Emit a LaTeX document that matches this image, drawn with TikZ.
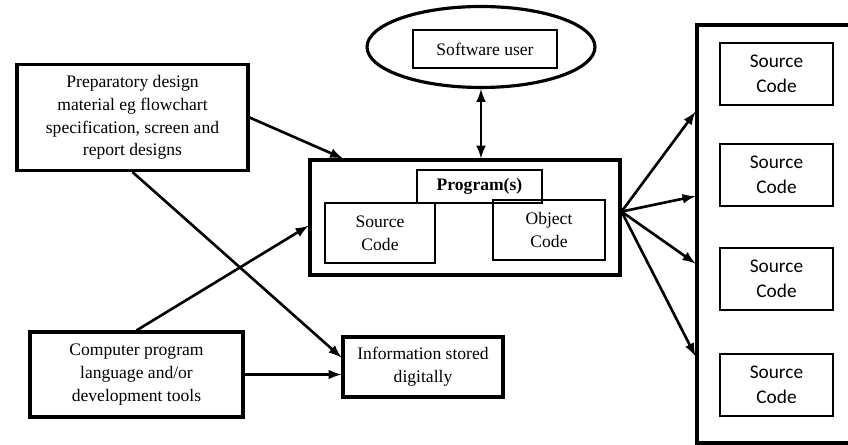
\documentclass[tikz,border=0pt]{standalone}
\usepackage{fontspec}
\setmainfont{Liberation Serif}
\newfontfamily\codefont{Carlito}
\usetikzlibrary{shapes,arrows,positioning,calc}

\begin{document}
\begin{tikzpicture}[
        x=0.02cm, y=-0.02cm,
        box/.style={rectangle, draw, line width=1.8pt, align=center, inner sep=0pt, font=\fontsize{10}{13}\selectfont},
        inbox/.style={rectangle, draw, line width=0.8pt, align=center, inner sep=0pt, font=\fontsize{10}{13}\selectfont},
        codebox/.style={inbox, font=\codefont\fontsize{11}{14}\selectfont},
        ring/.style={ellipse, draw, line width=1.8pt},
        line/.style={draw, -latex, line width=1.5pt}
    ]
    \useasboundingbox (0,0) rectangle (848,445);
    % left side inputs
    \node [box, minimum width=4.62cm, minimum height=2.12cm] (prep) at (132.5,117.5) {Preparatory design\\ material eg flowchart\\ specification, screen and\\ report designs};
    \node [box, minimum width=4.26cm, minimum height=1.7cm] (comp) at (136.5,374.5) {Computer program\\ language and/or\\ development tools};
    \node [box, minimum width=3.2cm, minimum height=1.2cm] (info) at (423,367) {Information stored\\ digitally};
    % user and program
    \node [ring, minimum width=4.56cm, minimum height=1.62cm] (userring) at (481,47) {};
    \node [inbox, minimum width=2.88cm, minimum height=0.76cm] (user) at (485,49) {Software user};
    \node [box, minimum width=6.2cm, minimum height=2.3cm] (prog) at (465,217.5) {};
    \node [inbox, minimum width=2.5cm, minimum height=0.66cm, font=\fontsize{10}{13}\selectfont\bfseries] (progtitle) at (479.5,186.5) {Program(s)};
    \node [inbox, minimum width=2.2cm, minimum height=1.2cm] (src) at (380,233) {Source\\ Code};
    \node [inbox, minimum width=2.24cm, minimum height=1.2cm] (obj) at (549,230) {Object\\ Code};
    % copies on the right
    \node [box, minimum width=3.06cm, minimum height=8.36cm] (store) at (773.5,234) {};
    \node [codebox, minimum width=2.26cm, minimum height=1.24cm] (copya) at (776.5,74) {Source\\ Code};
    \node [codebox, minimum width=2.26cm, minimum height=1.24cm] (copyb) at (776.5,175) {Source\\ Code};
    \node [codebox, minimum width=2.26cm, minimum height=1.24cm] (copyc) at (776.5,279) {Source\\ Code};
    \node [codebox, minimum width=2.26cm, minimum height=1.24cm] (copyd) at (776.5,385) {Source\\ Code};

    \coordinate (fan) at ($(prog.north east)!0.45!(prog.south east)$);
    \path [line] (prep.east) -- ($(prog.north west)!0.11!(prog.north east)$);
    \path [line] (prep.south) -- ($(info.north west)!0.35!(info.south west)$);
    \path [line] (comp.north) -- ($(prog.north west)!0.57!(prog.south west)$);
    \path [line] (comp.east) -- (comp.east -| info.west);
    \draw [line, latex-latex] (userring.south) -- (userring.south |- prog.north);
    \foreach \f in {0.21,0.41,0.57,0.79}
        \path [line] (fan) -- ($(store.north west)!\f!(store.south west)$);
\end{tikzpicture}
\end{document}
